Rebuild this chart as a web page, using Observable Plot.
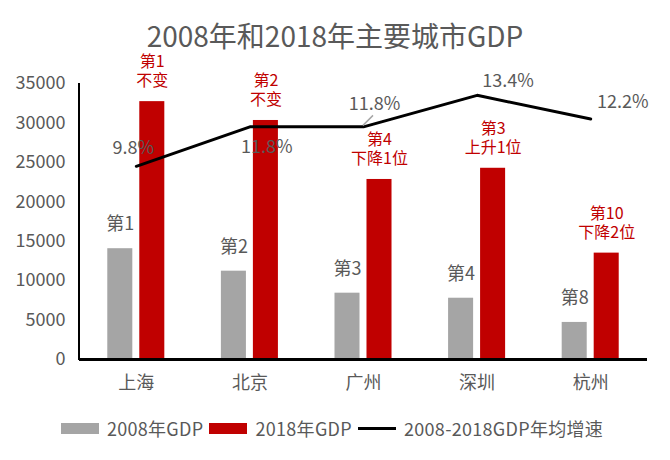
<!DOCTYPE html>
<html>
<head>
<meta charset="utf-8">
<script src="https://cdn.jsdelivr.net/npm/d3@7"></script>
<script src="https://cdn.jsdelivr.net/npm/@observablehq/plot@0.6"></script>
<style>
  html, body { margin: 0; padding: 0; background: #fff; }
  body { width: 670px; height: 460px; position: relative; overflow: hidden;
         font-family: "Noto Sans CJK SC", "Noto Sans", sans-serif; color: #595959; }
  #title { position: absolute; left: 0; top: 19px; width: 670px; height: 32px; line-height: 32px;
           text-align: center; font-size: 28px; color: #595959; z-index: 2; }
  #chart { position: absolute; left: 0; top: 45px; z-index: 1; }
  #legend { position: absolute; left: 0; top: 414px; width: 670px; height: 28px;
            display: flex; justify-content: center; align-items: center; font-size: 18px;
            letter-spacing: 0.3px; color: #595959; }
  #legend .sw { width: 38px; height: 11px; margin-right: 8px; }
  #legend .ln { width: 38px; height: 3px; background: #000; margin-right: 8px; }
  #legend .lab { margin-right: 6px; white-space: nowrap; }
</style>
</head>
<body>
<div id="title"></div>
<div id="chart"></div>
<div id="legend"></div>
<script>
// ---- data ----
const titleText = "2008年和2018年主要城市GDP";
const cities = ["上海", "北京", "广州", "深圳", "杭州"];
const gdp2008 = [14050, 11200, 8410, 7770, 4700];
const gdp2018 = [32700, 30310, 22830, 24250, 13490];
const growthRate = [9.8, 11.8, 11.8, 13.4, 12.2];
const rank2008Labels = ["第1", "第2", "第3", "第4", "第8"];
const rank2018Labels = ["第1\n不变", "第2\n不变", "第4\n下降1位", "第3\n上升1位", "第10\n下降2位"];
const rateLabels = ["9.8%", "11.8%", "11.8%", "13.4%", "12.2%"];
const yTicks = [0, 5000, 10000, 15000, 20000, 25000, 30000, 35000];
const seriesNames = ["2008年GDP", "2018年GDP", "2008-2018GDP年均增速"];

// ---- layout / style ----
const GRAY = "#A5A5A5", RED = "#C00000", TEXT = "#595959";
const rateScale = 35000 / 14; // secondary axis: 0–14% mapped onto 0–35000
const rateLabelOffsets = [[-3, -18], [17, 20], [11, -23], [31, -14], [32, -17]];

const rows = cities.map((c, i) => ({
  city: c, g08: gdp2008[i], g18: gdp2018[i], rate: growthRate[i],
  l08: rank2008Labels[i], l18: rank2018Labels[i], lr: rateLabels[i]
}));

document.getElementById("title").textContent = titleText;

function leftAxisLine(index, scales, values, dim) {
  const ns = "http://www.w3.org/2000/svg";
  const g = document.createElementNS(ns, "g");
  const l = document.createElementNS(ns, "line");
  l.setAttribute("x1", dim.marginLeft); l.setAttribute("x2", dim.marginLeft);
  l.setAttribute("y1", dim.marginTop); l.setAttribute("y2", dim.height - dim.marginBottom + 1);
  l.setAttribute("stroke", "#000"); l.setAttribute("stroke-width", 2);
  g.appendChild(l);
  // leader line for the 广州 rate label
  const x = scales.x(cities[2]) + (scales.x.bandwidth ? scales.x.bandwidth() / 2 : 0);
  const y = scales.y(growthRate[2] * rateScale);
  const k = document.createElementNS(ns, "line");
  k.setAttribute("x1", x); k.setAttribute("y1", y - 1);
  k.setAttribute("x2", x + 10); k.setAttribute("y2", y - 11);
  k.setAttribute("stroke", GRAY); k.setAttribute("stroke-width", 1.5);
  g.appendChild(k);
  return g;
}

const rateTextMarks = rows.map((r, i) => Plot.text([r], {
  x: "city", y: d => d.rate * rateScale, text: "lr",
  dx: rateLabelOffsets[i][0], dy: rateLabelOffsets[i][1],
  fill: TEXT, fontSize: 18, lineAnchor: "middle"
}));

const chart = Plot.plot({
  width: 670,
  height: 355,
  marginLeft: 79,
  marginRight: 23,
  marginTop: 38,
  marginBottom: 41,
  style: { fontFamily: "'Noto Sans CJK SC', 'Noto Sans', sans-serif", fontSize: "18px", color: TEXT, background: "transparent", overflow: "visible" },
  x: { type: "band", domain: cities, paddingInner: 0.498, paddingOuter: 0.249, align: 0.5, round: false,
       label: null, tickSize: 0, tickPadding: 17 },
  y: { domain: [0, 35000], ticks: yTicks, tickFormat: d3.format("d"), label: null,
       tickSize: 0, tickPadding: 14 },
  marks: [
    Plot.barY(rows, { x: "city", y: "g08", fill: GRAY, insetRight: 32 }),
    Plot.barY(rows, { x: "city", y: "g18", fill: RED, insetLeft: 32 }),
    Plot.text(rows, { x: "city", y: "g08", text: "l08", dx: -16, dy: -24, fill: TEXT, fontSize: 18, lineAnchor: "middle" }),
    Plot.text(rows, { x: "city", y: "g18", text: "l18", dx: 16, dy: -31, fill: RED, fontSize: 16, lineHeight: 1.2, lineAnchor: "middle" }),
    Plot.line(rows, { x: "city", y: d => d.rate * rateScale, stroke: "#000", strokeWidth: 3 }),
    ...rateTextMarks,
    Plot.ruleY([0], { stroke: "#000", strokeWidth: 3 }),
    leftAxisLine
  ]
});
document.getElementById("chart").appendChild(chart);

// legend
const legend = document.getElementById("legend");
const sw = [
  { cls: "sw", color: GRAY }, { cls: "sw", color: RED }, { cls: "ln", color: "#000" }
];
seriesNames.forEach((name, i) => {
  const s = document.createElement("span");
  s.className = sw[i].cls; s.style.background = sw[i].color;
  legend.appendChild(s);
  const t = document.createElement("span");
  t.className = "lab"; t.textContent = name;
  legend.appendChild(t);
});
</script>
</body>
</html>
